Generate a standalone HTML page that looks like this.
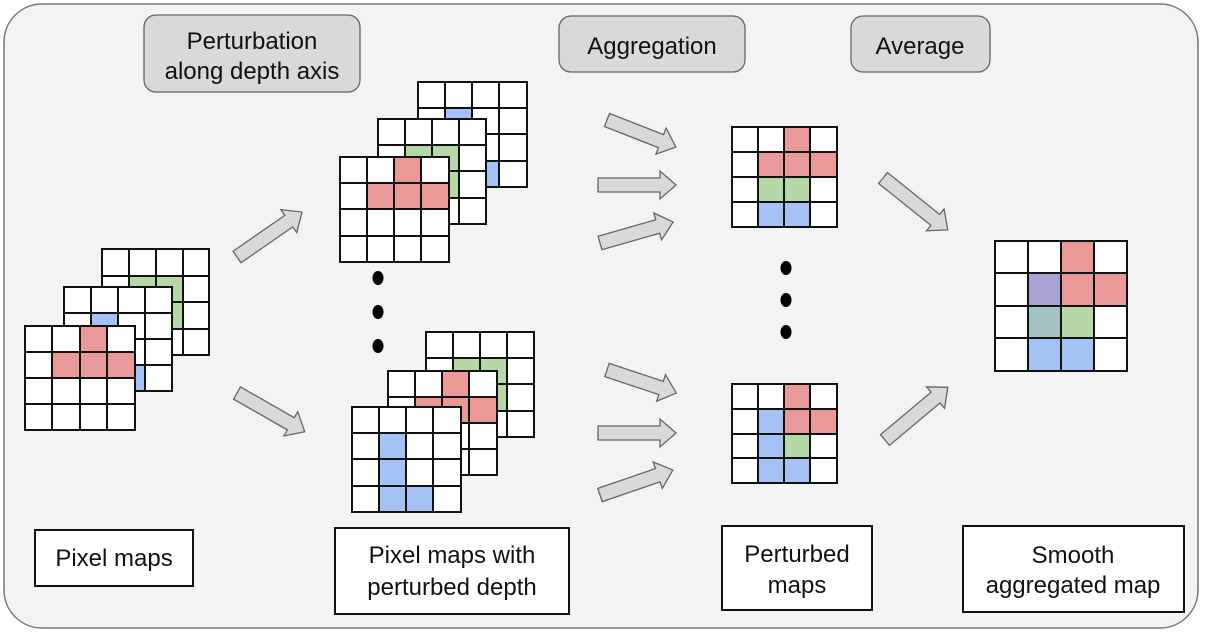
<!DOCTYPE html>
<html><head><meta charset="utf-8"><style>
html,body{margin:0;padding:0;background:#fff;}
svg{display:block;font-family:"Liberation Sans",Arial,sans-serif;}
</style></head><body>
<svg width="1205" height="634" viewBox="0 0 1205 634" xmlns="http://www.w3.org/2000/svg">
<rect x="4" y="4" width="1194" height="624" rx="38" fill="#f3f3f3" stroke="#777" stroke-width="1.5"/>

<g stroke="#666" stroke-width="1.3" fill="#d9d9d9">
<rect x="144" y="15" width="216" height="77" rx="12"/>
<rect x="559" y="16" width="186" height="56" rx="12"/>
<rect x="851" y="16" width="139" height="56" rx="12"/>
</g>
<g font-size="24" fill="#111" text-anchor="middle">
<text x="252" y="49">Perturbation</text>
<text x="252" y="79">along depth axis</text>
<text x="652" y="54">Aggregation</text>
<text x="920" y="54">Average</text>
</g>

<g stroke="#111" stroke-width="2" fill="#fff">
<rect x="35" y="530" width="158" height="56"/>
<rect x="335" y="528" width="234" height="86"/>
<rect x="722" y="526" width="150" height="84"/>
<rect x="963" y="526" width="221" height="86"/>
</g>
<g font-size="24" fill="#111" text-anchor="middle">
<text x="114" y="566">Pixel maps</text>
<text x="452" y="563">Pixel maps with</text>
<text x="452" y="595">perturbed depth</text>
<text x="797" y="562">Perturbed</text>
<text x="797" y="593">maps</text>
<text x="1073" y="563">Smooth</text>
<text x="1073" y="593">aggregated map</text>
</g>

<g stroke="#111" stroke-width="2">
<rect x="102" y="249" width="107" height="106" fill="#fff"/>
<rect x="129" y="276" width="27" height="26" fill="#b6d7a8" stroke="none"/>
<rect x="156" y="276" width="27" height="26" fill="#b6d7a8" stroke="none"/>
<rect x="156" y="302" width="27" height="27" fill="#b6d7a8" stroke="none"/>
<path d="M129 249v106M156 249v106M183 249v106M102 276h107M102 302h107M102 329h107" fill="none"/>
<rect x="102" y="249" width="107" height="106" fill="none"/>

<rect x="64" y="287" width="108" height="104" fill="#fff"/>
<rect x="91" y="313" width="27" height="26" fill="#a4c2f4" stroke="none"/>
<rect x="118" y="365" width="27" height="26" fill="#a4c2f4" stroke="none"/>
<path d="M91 287v104M118 287v104M145 287v104M64 313h108M64 339h108M64 365h108" fill="none"/>
<rect x="64" y="287" width="108" height="104" fill="none"/>

<rect x="25" y="326" width="110" height="104" fill="#fff"/>
<rect x="80" y="326" width="27" height="26" fill="#ea9999" stroke="none"/>
<rect x="52" y="352" width="83" height="26" fill="#ea9999" stroke="none"/>
<path d="M52 326v104M80 326v104M107 326v104M25 352h110M25 378h110M25 404h110" fill="none"/>
<rect x="25" y="326" width="110" height="104" fill="none"/>
</g>

<g stroke="#111" stroke-width="2">
<rect x="418" y="82" width="109" height="105" fill="#fff"/>
<rect x="445" y="108" width="27" height="26" fill="#a4c2f4" stroke="none"/>
<rect x="472" y="161" width="27" height="26" fill="#a4c2f4" stroke="none"/>
<path d="M445 82v105M472 82v105M499 82v105M418 108h109M418 134h109M418 161h109" fill="none"/>
<rect x="418" y="82" width="109" height="105" fill="none"/>

<rect x="378" y="119" width="108" height="105" fill="#fff"/>
<rect x="405" y="145" width="54" height="26" fill="#b6d7a8" stroke="none"/>
<rect x="432" y="171" width="27" height="27" fill="#b6d7a8" stroke="none"/>
<path d="M405 119v105M432 119v105M459 119v105M378 145h108M378 171h108M378 198h108" fill="none"/>
<rect x="378" y="119" width="108" height="105" fill="none"/>

<rect x="340" y="157" width="109" height="105" fill="#fff"/>
<rect x="394" y="157" width="27" height="26" fill="#ea9999" stroke="none"/>
<rect x="367" y="183" width="82" height="26" fill="#ea9999" stroke="none"/>
<path d="M367 157v105M394 157v105M421 157v105M340 183h109M340 209h109M340 236h109" fill="none"/>
<rect x="340" y="157" width="109" height="105" fill="none"/>
</g>

<g stroke="#111" stroke-width="2">
<rect x="426" y="332" width="108" height="105" fill="#fff"/>
<rect x="453" y="358" width="54" height="26" fill="#b6d7a8" stroke="none"/>
<rect x="480" y="384" width="27" height="27" fill="#b6d7a8" stroke="none"/>
<path d="M453 332v105M480 332v105M507 332v105M426 358h108M426 384h108M426 411h108" fill="none"/>
<rect x="426" y="332" width="108" height="105" fill="none"/>

<rect x="388" y="371" width="109" height="104" fill="#fff"/>
<rect x="442" y="371" width="27" height="26" fill="#ea9999" stroke="none"/>
<rect x="415" y="397" width="82" height="26" fill="#ea9999" stroke="none"/>
<path d="M415 371v104M442 371v104M469 371v104M388 397h109M388 423h109M388 449h109" fill="none"/>
<rect x="388" y="371" width="109" height="104" fill="none"/>

<rect x="352" y="407" width="109" height="105" fill="#fff"/>
<rect x="379" y="433" width="27" height="79" fill="#a4c2f4" stroke="none"/>
<rect x="406" y="486" width="27" height="26" fill="#a4c2f4" stroke="none"/>
<path d="M379 407v105M406 407v105M433 407v105M352 433h109M352 459h109M352 486h109" fill="none"/>
<rect x="352" y="407" width="109" height="105" fill="none"/>
</g>

<g stroke="#111" stroke-width="2">
<rect x="732" y="127" width="105" height="100" fill="#fff"/>
<rect x="784" y="127" width="26" height="25" fill="#ea9999" stroke="none"/>
<rect x="758" y="152" width="79" height="25" fill="#ea9999" stroke="none"/>
<rect x="758" y="177" width="52" height="25" fill="#b6d7a8" stroke="none"/>
<rect x="758" y="202" width="52" height="25" fill="#a4c2f4" stroke="none"/>
<path d="M758 127v100M784 127v100M810 127v100M732 152h105M732 177h105M732 202h105" fill="none"/>
<rect x="732" y="127" width="105" height="100" fill="none"/>

<rect x="732" y="384" width="105" height="99" fill="#fff"/>
<rect x="784" y="384" width="26" height="25" fill="#ea9999" stroke="none"/>
<rect x="784" y="409" width="53" height="25" fill="#ea9999" stroke="none"/>
<rect x="758" y="409" width="26" height="74" fill="#a4c2f4" stroke="none"/>
<rect x="784" y="458" width="26" height="25" fill="#a4c2f4" stroke="none"/>
<rect x="784" y="434" width="26" height="24" fill="#b6d7a8" stroke="none"/>
<path d="M758 384v99M784 384v99M810 384v99M732 409h105M732 434h105M732 458h105" fill="none"/>
<rect x="732" y="384" width="105" height="99" fill="none"/>
</g>

<g stroke="#111" stroke-width="2">
<rect x="995" y="241" width="132" height="130" fill="#fff"/>
<rect x="1061" y="241" width="33" height="32" fill="#ea9999" stroke="none"/>
<rect x="1061" y="273" width="66" height="33" fill="#ea9999" stroke="none"/>
<rect x="1028" y="273" width="33" height="33" fill="#a8a3d2" stroke="none"/>
<rect x="1028" y="306" width="33" height="32" fill="#a3c3c3" stroke="none"/>
<rect x="1061" y="306" width="33" height="32" fill="#b6d7a8" stroke="none"/>
<rect x="1028" y="338" width="66" height="33" fill="#a4c2f4" stroke="none"/>
<path d="M1028 241v130M1061 241v130M1094 241v130M995 273h132M995 306h132M995 338h132" fill="none"/>
<rect x="995" y="241" width="132" height="130" fill="none"/>
</g>

<g fill="#000">
<ellipse cx="378" cy="278" rx="5.5" ry="7"/>
<ellipse cx="378" cy="312" rx="5.5" ry="7"/>
<ellipse cx="378" cy="346" rx="5.5" ry="7"/>
<ellipse cx="786" cy="268" rx="5.5" ry="7"/>
<ellipse cx="786" cy="300" rx="5.5" ry="7"/>
<ellipse cx="786" cy="332" rx="5.5" ry="7"/>
</g>

<g fill="#d9d9d9" stroke="#666" stroke-width="1.3">
<polygon transform="translate(237,257) rotate(-34.7)" points="0,-7 63,-7 63,-14 79,0 63,14 63,7 0,7"/>
<polygon transform="translate(237,393) rotate(29.8)" points="0,-7 62,-7 62,-14 78,0 62,14 62,7 0,7"/>
<polygon transform="translate(607,120) rotate(21.4)" points="0,-7 58,-7 58,-14 74,0 58,14 58,7 0,7"/>
<polygon transform="translate(598,185)" points="0,-7 62,-7 62,-14 78,0 62,14 62,7 0,7"/>
<polygon transform="translate(600,243) rotate(-16)" points="0,-7 60,-7 60,-14 76,0 60,14 60,7 0,7"/>
<polygon transform="translate(607,370) rotate(18.4)" points="0,-7 57,-7 57,-14 73,0 57,14 57,7 0,7"/>
<polygon transform="translate(598,433)" points="0,-7 62,-7 62,-14 78,0 62,14 62,7 0,7"/>
<polygon transform="translate(600,495) rotate(-18.9)" points="0,-7 61,-7 61,-14 77,0 61,14 61,7 0,7"/>
<polygon transform="translate(883,178) rotate(38.7)" points="0,-7 67,-7 67,-14 83,0 67,14 67,7 0,7"/>
<polygon transform="translate(885,440) rotate(-40)" points="0,-7 66,-7 66,-14 82,0 66,14 66,7 0,7"/>
</g>
</svg>
</body></html>
